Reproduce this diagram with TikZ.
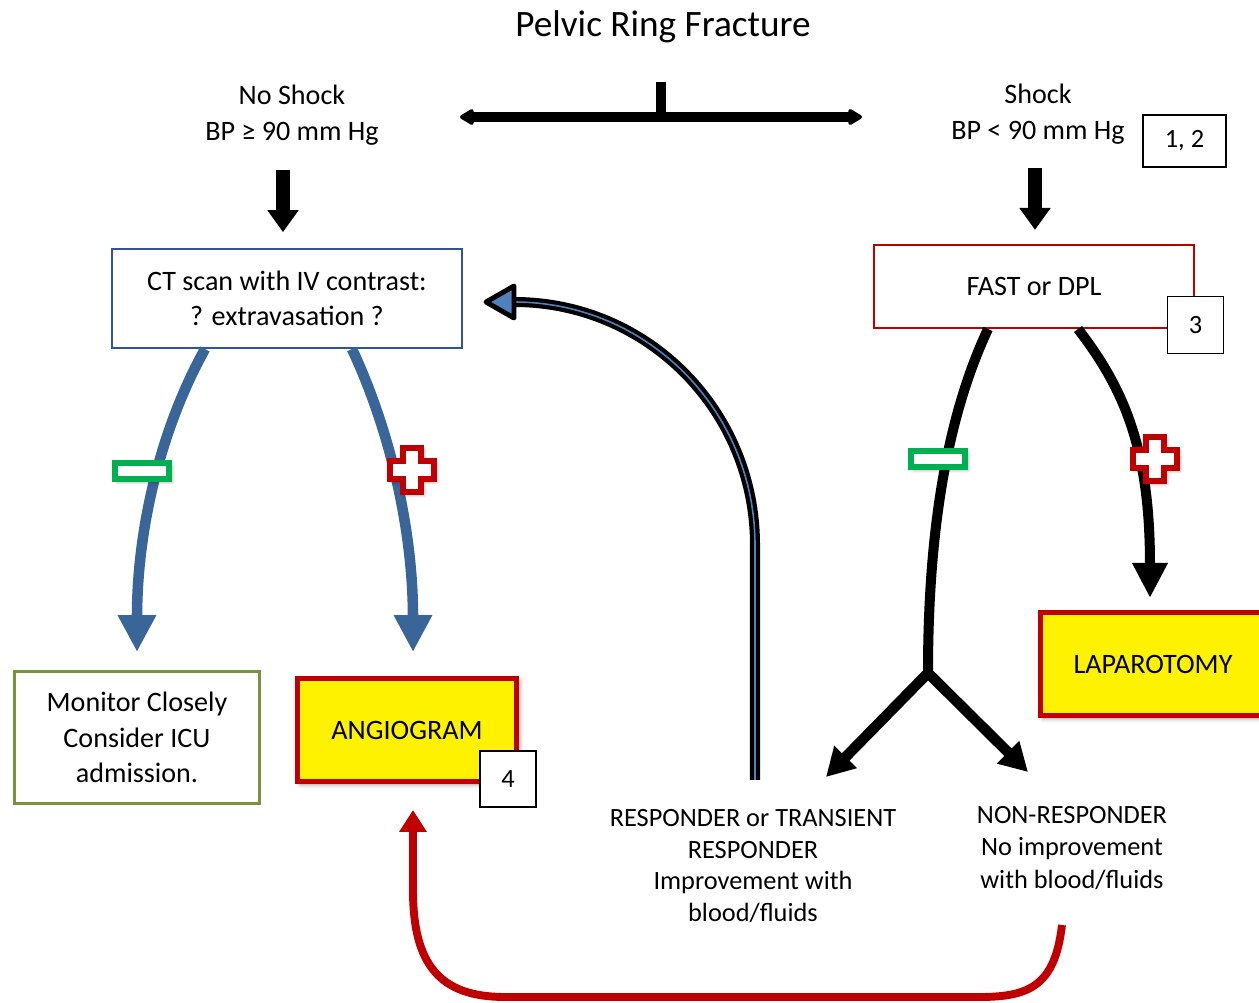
\documentclass[tikz,border=0pt]{standalone}
\usepackage{fontspec}
\setmainfont{Carlito}
\usetikzlibrary{arrows.meta,shadows.blur,calc}
\definecolor{cred}{HTML}{C00000}
\definecolor{cblue}{HTML}{2F5597}
\definecolor{carrow}{HTML}{3A6599}
\definecolor{cgreen}{HTML}{00B050}
\definecolor{colive}{HTML}{77933C}
\definecolor{cheadblue}{HTML}{4F81BD}
\begin{document}
\begin{tikzpicture}[x=0.02cm,y=-0.02cm,
  txt/.style={font=\fontsize{16}{20.4}\selectfont, align=center, inner sep=0pt},
  numbox/.style={draw=black, line width=0.6pt, fill=white, font=\fontsize{15}{18}\selectfont, inner sep=0pt},
  ctbox/.style={txt, font=\fontsize{16}{19.8}\selectfont, draw=cblue, line width=1.2pt, fill=white, minimum width=7.0cm, minimum height=1.98cm},
  fastbox/.style={txt, draw=cred, line width=1.2pt, fill=white, minimum width=6.4cm, minimum height=1.66cm},
  monbox/.style={txt, draw=colive, line width=1.7pt, fill=white, minimum width=4.9cm, minimum height=2.64cm},
  yelbox/.style={txt, fill=yellow, draw=cred, line width=2.8pt,
     blur shadow={shadow xshift=1.5pt, shadow yshift=-1.5pt, shadow blur radius=2.5pt, shadow opacity=45}},
  minusbox/.style={draw=cgreen, line width=3.1pt, fill=white, minimum width=1.08cm, minimum height=0.32cm, inner sep=0pt,
     blur shadow={shadow xshift=1.5pt, shadow yshift=-1.5pt, shadow blur radius=2pt, shadow opacity=45}},
  toparr/.style={line width=5.7pt, {Triangle[length=9pt,width=10pt,round]}-{Triangle[length=9pt,width=10pt,round]}},
  downarr/.style={line width=8pt, -{Triangle[length=12.5pt,width=17pt]}},
  bluearr/.style={draw=carrow, line width=6pt, -{Triangle[length=21pt,width=20.5pt]}},
  blkarr/.style={line width=5.7pt, -{Triangle[length=20pt,width=19pt]}},
  yarr/.style={line width=6pt, -{Triangle[length=16pt,width=17pt]}},
  redarr/.style={draw=cred, line width=4.5pt, -{Triangle[length=12.5pt,width=15pt]}},
  redcross/.pic={
    \draw[draw=cred, fill=white, line width=3pt,
      blur shadow={shadow xshift=1.5pt, shadow yshift=-1.5pt, shadow blur radius=2pt, shadow opacity=45}]
      (-9,-22) -- (9,-22) -- (9,-9) -- (22,-9) -- (22,9) -- (9,9) -- (9,22) -- (-9,22)
      -- (-9,9) -- (-22,9) -- (-22,-9) -- (-9,-9) -- cycle;
  }
]
\useasboundingbox (0,0) rectangle (1259,1003);

% texts
\node[txt, font=\fontsize{21.2}{24}\selectfont] (title) at (663,27) {Pelvic Ring Fracture};
\node[txt] (noshock) at (292,115) {No Shock\\BP ≥ 90 mm Hg};
\node[txt] (shock) at (1038,114) {Shock\\BP < 90 mm Hg};
\node[numbox, minimum width=1.66cm, minimum height=1.04cm] (n12) at (1184.5,141) {1, 2};

% top connector
\coordinate (tl) at (460,117);
\coordinate (tr) at (862,117);
\coordinate (ts) at (661,82);
\coordinate (tm) at (661,117);
\draw[toparr] (tl) -- (tr);
\draw[line width=5.7pt] (ts) -- (tm);

% boxes
\node[ctbox] (ct) at (287,298.5) {CT scan with IV contrast:\\? extravasation ?};
\node[fastbox] (fast) at (1034,286.5) {FAST or DPL};
\node[numbox, minimum size=1.13cm] (n3) at (1195.5,325) {3};

% down arrows
\coordinate (d1) at (283,170);
\coordinate (d2) at (1035,168);
\draw[downarr, shorten >=9pt] (d1) -- (d1 |- ct.north);
\draw[downarr, shorten >=8pt] (d2) -- (d2 |- fast.north);

% lower boxes
\node[monbox] (mon) at (137,737.5) {Monitor Closely\\Consider ICU\\admission.};
\node[yelbox, minimum width=4.38cm, minimum height=2.06cm] (angio) at (407,730) {ANGIOGRAM};
\node[numbox, minimum size=1.12cm] (n4) at (508,779) {4};
\node[yelbox, minimum width=4.5cm, minimum height=2.06cm] (lap) at (1153,664) {LAPAROTOMY};

\node[txt, font=\fontsize{15}{18.1}\selectfont] (resp) at (753,866)
  {RESPONDER or TRANSIENT\\RESPONDER\\Improvement with\\blood/fluids};
\node[txt, font=\fontsize{15}{18.4}\selectfont] (nonresp) at (1072,848)
  {NON-RESPONDER\\No improvement\\with blood/fluids};

% blue arrows from CT
\coordinate (b1s) at (205,349);
\coordinate (b2s) at (352,349);
\coordinate (b1e) at (137,652);
\coordinate (b2e) at (413,652);
\draw[bluearr] (b1s) .. controls (160,430) and (137,530) .. (b1e);
\draw[bluearr] (b2s) .. controls (390,430) and (413,530) .. (b2e);

% black arrows from FAST
\coordinate (f1s) at (988,329);
\coordinate (f2s) at (1078,329);
\coordinate (fj) at (928,673);
\coordinate (fe2) at (1150,598);
\coordinate (yl) at (826,777);
\coordinate (yr) at (1028,772);
\draw[line width=5.7pt] (f1s) .. controls (950,410) and (928,520) .. (fj);
\draw[yarr] (fj) -- (yl);
\draw[yarr] (fj) -- (yr);
\draw[blkarr] (f2s) .. controls (1125,390) and (1150,450) .. (fe2);

% responder back to CT
\coordinate (r0) at (755,780);
\coordinate (r1) at (755,545);
\coordinate (r2) at (514,302);
\coordinate (rtip) at (486,302);
\draw[line width=5.7pt] (r0) -- (r1) .. controls (755,411) and (648,302) .. (r2);
\draw[draw=cheadblue, line width=0.9pt] (r0) -- (r1) .. controls (755,411) and (648,302) .. (r2);
\draw[draw=black, fill=cheadblue, line width=2.8pt, line join=round]
  (rtip) -- (514,286) -- (514,318) -- cycle;

% red arrow: non-responder to angiogram
\coordinate (q0) at (1062,925);
\coordinate (q1) at (413,810);
\draw[redarr] (q0) .. controls (1055,985) and (1030,997) .. (980,997) -- (505,997)
  .. controls (440,997) and (413,965) .. (413,890) -- (q1);

% signs
\node[minusbox] (m1) at (142,471) {};
\node[minusbox] (m2) at (938,459) {};
\pic (p1) at (412,470) {redcross};
\pic (p2) at (1155,459) {redcross};
\end{tikzpicture}
\end{document}
